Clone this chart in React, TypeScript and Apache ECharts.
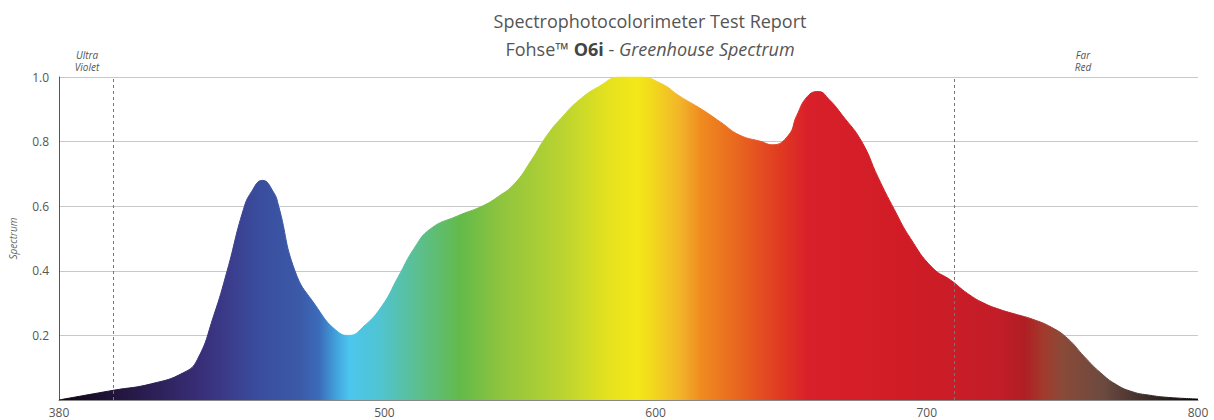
import React, { useEffect, useRef } from 'react';
import * as echarts from 'echarts';

const wavelengths = [
  380, 400, 414, 426, 431, 437, 442, 448, 451, 455, 459, 461,
  467, 474, 483, 487, 492, 499, 505, 511, 517, 527,
  536, 542, 548, 554, 560, 566, 572, 579, 587, 594,
  602, 609, 617, 624, 631, 639, 643, 649, 652, 656,
  660, 664, 669, 676, 682, 688, 694, 702, 709, 715,
  721, 727, 733, 739, 746, 752, 758, 764, 770, 776,
  782, 789, 800,
];
const spectrum = [
  0.0, 0.03, 0.05, 0.085, 0.125, 0.26, 0.4, 0.59, 0.645, 0.68, 0.645, 0.6,
  0.4, 0.3, 0.21, 0.2, 0.225, 0.29, 0.38, 0.47, 0.53, 0.57,
  0.6, 0.63, 0.67, 0.74, 0.82, 0.88, 0.93, 0.97, 1.0, 1.0,
  0.98, 0.94, 0.9, 0.86, 0.82, 0.8, 0.79, 0.82, 0.88, 0.94,
  0.955, 0.93, 0.88, 0.8, 0.69, 0.59, 0.5, 0.41, 0.37, 0.33,
  0.3, 0.28, 0.265, 0.25, 0.225, 0.19, 0.135, 0.085, 0.047, 0.025,
  0.015, 0.008, 0.003,
];
const xTickLabels = [380, 500, 600, 700, 800];
const yTickLabels = [0.2, 0.4, 0.6, 0.8, 1.0];
const bandMarkers = [400, 710];
const bandLabels = ['Ultra\nViolet', 'Far\nRed'];
const spectrumStops: [number, string][] = [
  [380, '#0a0510'], [395, '#1c1030'], [414, '#2c1f55'], [432, '#382e78'],
  [443, '#3b3d8c'], [454, '#3a4d9f'], [469, '#3a5aa8'], [476, '#3c6cba'],
  [482, '#41a0dc'], [487, '#4bc6ee'], [498, '#50c4d2'], [513, '#5cbf8c'],
  [528, '#63ba4a'], [543, '#8fc43e'], [565, '#b9d331'], [583, '#e6e21e'],
  [593, '#f3e818'], [600, '#f2d51f'], [609, '#f2b42a'], [617, '#f08a20'],
  [631, '#e8641f'], [646, '#e03a22'], [656, '#d8202a'], [690, '#d11c26'],
  [727, '#c21d28'], [736, '#b01e24'], [743, '#a23a2d'], [750, '#8a4a38'],
  [765, '#6c4a40'], [782, '#3a2a28'], [800, '#050505'],
];

export default function App() {
  const ref = useRef<HTMLDivElement>(null);
  useEffect(() => {
    if (!ref.current) return;
    const chart = echarts.init(ref.current, undefined, { renderer: 'svg' });
    const xMin = 380;
    const xMax = 800;
    const grad = new echarts.graphic.LinearGradient(
      0, 0, 1, 0,
      spectrumStops.map(([w, c]) => ({ offset: (w - xMin) / (xMax - xMin), color: c }))
    );
    const font = '"Open Sans", "Noto Sans", sans-serif';
    chart.setOption({
      animation: false,
      grid: { left: 58, right: 16, top: 77, bottom: 20, containLabel: false },
      xAxis: {
        type: 'value',
        min: xMin,
        max: xMax,
        interval: 20,
        axisLine: { show: true, lineStyle: { color: '#888', width: 1 } },
        axisTick: { show: false },
        splitLine: { show: false },
        axisLabel: {
          interval: 0,
          margin: 6,
          color: '#555',
          fontSize: 12,
          fontFamily: font,
          formatter: (v: number) => (xTickLabels.includes(v) ? String(v) : ''),
        },
      },
      yAxis: {
        type: 'value',
        min: 0,
        max: 1,
        interval: 0.2,
        name: 'Spectrum',
        nameLocation: 'middle',
        nameRotate: 90,
        nameGap: 41,
        nameTextStyle: { fontStyle: 'italic', fontSize: 10, color: '#666', fontFamily: font },
        axisLine: { show: true, lineStyle: { color: '#555', width: 1 } },
        axisTick: { show: false },
        splitLine: { show: true, lineStyle: { color: '#c8c8c8', width: 1 } },
        axisLabel: {
          margin: 10,
          color: '#555',
          fontSize: 12,
          fontFamily: font,
          formatter: (v: number) => {
            const hit = yTickLabels.find((t) => Math.abs(t - v) < 1e-6);
            return hit !== undefined ? hit.toFixed(1) : '';
          },
        },
      },
      series: [
        {
          type: 'line',
          data: wavelengths.map((w, i) => [w, spectrum[i]]),
          smooth: 0.5,
          showSymbol: false,
          lineStyle: { width: 1, color: grad },
          areaStyle: { color: grad, opacity: 1 },
          markLine: {
            silent: true,
            symbol: 'none',
            label: { show: false },
            lineStyle: { type: [3, 3], color: '#777', width: 1 },
            data: bandMarkers.map((m) => ({ xAxis: m })),
          },
          z: 3,
        },
      ],
      graphic: [
        {
          type: 'text',
          x: 650,
          y: 21,
          style: {
            text: 'Spectrophotocolorimeter Test Report',
            textAlign: 'center',
            textVerticalAlign: 'middle',
            fill: '#555',
            font: `18px ${font}`,
          },
        },
        {
          type: 'text',
          x: 650,
          y: 49,
          style: {
            text: '{a|Fohse™ }{b|O6i}{a| - }{c|Greenhouse Spectrum}',
            textAlign: 'center',
            textVerticalAlign: 'middle',
            fill: '#555',
            rich: {
              a: { fontSize: 18, fill: '#555', fontFamily: font },
              b: { fontSize: 18, fill: '#444', fontFamily: font, fontWeight: 'bold' },
              c: { fontSize: 18, fill: '#555', fontFamily: font, fontStyle: 'italic' },
            },
          },
        },
        {
          type: 'text',
          x: 87,
          y: 61,
          style: {
            text: bandLabels[0],
            textAlign: 'center',
            textVerticalAlign: 'middle',
            fill: '#555',
            fontSize: 10,
            fontStyle: 'italic',
            fontFamily: font,
            lineHeight: 12,
          },
        },
        {
          type: 'text',
          x: 1083,
          y: 61,
          style: {
            text: bandLabels[1],
            textAlign: 'center',
            textVerticalAlign: 'middle',
            fill: '#555',
            fontSize: 10,
            fontStyle: 'italic',
            fontFamily: font,
            lineHeight: 12,
          },
        },
      ],
    });
    return () => chart.dispose();
  }, []);
  return (
    <div
      ref={ref}
      style={{ position: 'fixed', left: 0, top: 0, width: 1214, height: 420, background: '#fff' }}
    />
  );
}
